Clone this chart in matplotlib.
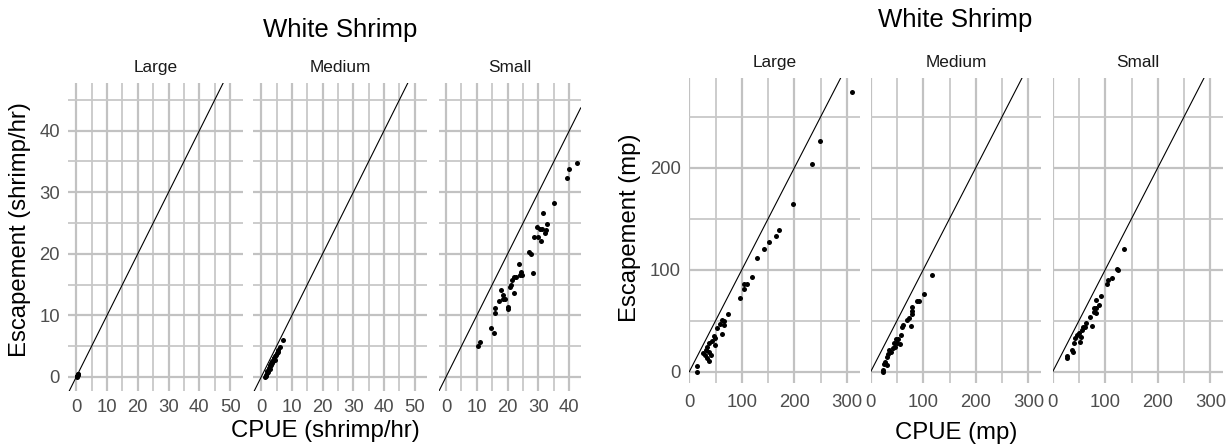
import matplotlib
matplotlib.use("Agg")
import matplotlib.pyplot as plt
from matplotlib.ticker import MultipleLocator

plt.rcParams['font.family'] = ['Liberation Sans', 'DejaVu Sans']

########
# DATA #
########

sizes = ["Large", "Medium", "Small"]

# CPUE vs escapement, shrimp/hr
large_cpue_n = [0.1, 0.3, 0.4, 0.5, 0.2, 0.6]
large_esc_n = [0.0, 0.2, 0.3, 0.4, 0.1, 0.5]

medium_cpue_n = [1.2, 1.4, 1.6, 1.9, 2.0, 2.2, 2.4, 2.5, 2.7, 2.9, 3.0, 3.2, 3.3,
                 3.5, 3.6, 3.8, 4.0, 4.1, 4.3, 4.5, 4.6, 4.8, 5.0, 5.3, 5.6, 6.1, 7.2]
medium_esc_n = [0.0, 0.3, 0.2, 0.6, 0.9, 0.8, 1.2, 1.4, 1.3, 1.7, 2.0, 1.9, 2.3,
                2.2, 2.6, 2.5, 2.9, 3.0, 3.1, 2.7, 3.4, 3.6, 3.9, 4.0, 4.4, 4.9, 6.0]

small_cpue_n = [10.3, 11.0, 14.7, 15.6, 16.0, 16.0, 17.2, 17.7, 18.4, 18.5, 19.1,
                20.1, 20.2, 20.8, 21.1, 21.5, 21.9, 22.2, 22.8, 23.7, 24.0, 24.4,
                24.5, 26.9, 27.5, 28.2, 28.6, 29.6, 30.0, 30.6, 30.8, 31.2, 31.6,
                32.0, 32.5, 32.8, 35.0, 39.1, 40.0, 42.4]
small_esc_n = [5.0, 5.7, 8.0, 7.1, 11.2, 10.3, 12.4, 14.1, 12.6, 13.3, 12.7,
               11.4, 11.0, 14.6, 15.0, 15.8, 13.6, 16.2, 16.3, 18.4, 16.6, 17.0,
               16.5, 20.3, 20.0, 16.8, 22.8, 24.3, 22.8, 24.1, 22.0, 24.0, 26.6,
               23.4, 23.9, 24.9, 28.2, 32.3, 33.7, 34.7]

# CPUE vs escapement, mp
large_cpue_mp = [310, 248.6, 234, 196.7, 171.2, 164.3, 152.2, 141.5, 129.4, 119.8,
                 110.3, 104, 104, 95.8, 74.2, 66.6, 62.8, 66.6, 53.3, 62.8, 46.4,
                 48.7, 42.6, 48.2, 36.9, 33.1, 26, 29.9, 33.7, 37, 38.3, 40.6,
                 14, 14.7, 58, 31]
large_esc_mp = [273.9, 226.2, 203.3, 164.4, 139.2, 133, 127.2, 120.6, 111.2, 93.1,
                85.7, 86, 81.1, 72, 56.9, 50, 51.1, 45.8, 42.5, 36.7, 35,
                33.5, 30.1, 26.2, 27.8, 24.5, 18, 16.4, 13.1, 10.5, 19.6, 16.4,
                5.6, 0, 47, 21]

medium_cpue_mp = [116.6, 102, 91.3, 87.5, 78, 79.2, 79.2, 72.9, 69.7, 76.7, 62,
                  59, 57.6, 52.6, 44.3, 50.6, 55.7, 41.8, 38, 33.5, 30.4, 27.2,
                  25.3, 22.8, 22.8, 30.4, 45.6, 35.5, 48]
medium_esc_mp = [94.8, 76.2, 69.3, 69.3, 63.7, 59.8, 56.3, 52.3, 50.7, 44.8, 45.5,
                 43.5, 36, 31.8, 28.5, 28, 27, 22.9, 19.6, 17, 14.1, 9.8,
                 7.5, 1.7, 0, 6.6, 24.5, 21, 32]

small_cpue_mp = [136.2, 124.8, 121.7, 112.2, 105.2, 103.9, 92.5, 82.4, 87.5, 82.4,
                 78.6, 82.4, 77.9, 71, 74.2, 63.3, 61.4, 57.1, 55.7, 50.6, 53.3,
                 52, 46.8, 42.4, 41.1, 39.2, 36.1, 27.8, 26.6]
small_esc_mp = [120.3, 99.7, 100.4, 92.2, 89.9, 85.7, 74.2, 70.3, 65.4, 62.2,
                62.2, 57.8, 58.8, 53.9, 44.8, 48, 44.1, 43.5, 40.9, 38.2, 34.3,
                29.4, 36, 32.7, 27.8, 19.6, 21.2, 13.1, 15.4]

###########
# FIGURE  #
###########

W, H = 1230, 447
fig = plt.figure(figsize=(W / 100, H / 100), dpi=100)


def box(x0, x1, y0, y1):
    return [x0 / W, 1 - y1 / H, (x1 - x0) / W, (y1 - y0) / H]


def panel(rect, x, y, xlim, ylim, major, minor, title, show_y, xpad):
    ax = fig.add_axes(rect)
    ax.set_xlim(xlim)
    ax.set_ylim(ylim)
    ax.xaxis.set_major_locator(MultipleLocator(major[0]))
    ax.xaxis.set_minor_locator(MultipleLocator(minor[0]))
    ax.yaxis.set_major_locator(MultipleLocator(major[1]))
    ax.yaxis.set_minor_locator(MultipleLocator(minor[1]))
    ax.grid(which="major", color="#c2c2c2", lw=1.6)
    ax.grid(which="minor", color="#c8c8c8", lw=1.3)
    ax.set_axisbelow(True)
    for s in ax.spines.values():
        s.set_visible(False)
    ax.tick_params(which="both", length=0, labelsize=13.3, labelcolor="#4d4d4d")
    ax.tick_params(axis="x", pad=xpad)
    ax.tick_params(axis="y", pad=6)
    if not show_y:
        ax.tick_params(axis="y", labelleft=False)
    ax.axline((0, 0), slope=1, color="black", lw=0.8)
    ax.plot(x, y, "o", color="black", ms=3.6, mec="none", clip_on=False)
    ax.set_title(title, fontsize=12.4, color="#1a1a1a", pad=8)
    return ax


# left: shrimp/hr
ylim_n = (-2.3, 47.7)
panel(box(68.3, 242.7, 83.3, 391), large_cpue_n, large_esc_n, (-2.6, 54.1), ylim_n,
      (10, 10), (5, 5), sizes[0], True, 6)
panel(box(253.3, 427.3, 83.3, 391), medium_cpue_n, medium_esc_n, (-2.6, 54.1), ylim_n,
      (10, 10), (5, 5), sizes[1], False, 6)
panel(box(439.3, 580.7, 83.3, 391), small_cpue_n, small_esc_n, (-2.2, 43.7), ylim_n,
      (10, 10), (5, 5), sizes[2], False, 6)

# right: mp
ylim_mp = (-11.1, 287.6)
panel(box(689.3, 860, 78.3, 383), large_cpue_mp, large_esc_mp, (0, 324.7), ylim_mp,
      (100, 100), (50, 50), sizes[0], True, 8)
panel(box(870.7, 1041, 78.3, 383), medium_cpue_mp, medium_esc_mp, (0, 324), ylim_mp,
      (100, 100), (50, 50), sizes[1], False, 8)
panel(box(1052.7, 1223, 78.3, 383), small_cpue_mp, small_esc_mp, (0, 324), ylim_mp,
      (100, 100), (50, 50), sizes[2], False, 8)

# titles and axis labels
fig.text(340 / W, 1 - 30 / H, "White Shrimp", fontsize=18.5, ha="center", va="center")
fig.text(955 / W, 1 - 20 / H, "White Shrimp", fontsize=18.5, ha="center", va="center")
fig.text(325 / W, 1 - 431 / H, "CPUE (shrimp/hr)", fontsize=17.2, ha="center", va="center")
fig.text(956 / W, 1 - 433 / H, "CPUE (mp)", fontsize=17.2, ha="center", va="center")
fig.text(20 / W, 1 - 230 / H, "Escapement (shrimp/hr)", fontsize=17.2, rotation=90,
         ha="center", va="center")
fig.text(630 / W, 1 - 228 / H, "Escapement (mp)", fontsize=17.2, rotation=90,
         ha="center", va="center")

fig.savefig("out.png", dpi=100)
